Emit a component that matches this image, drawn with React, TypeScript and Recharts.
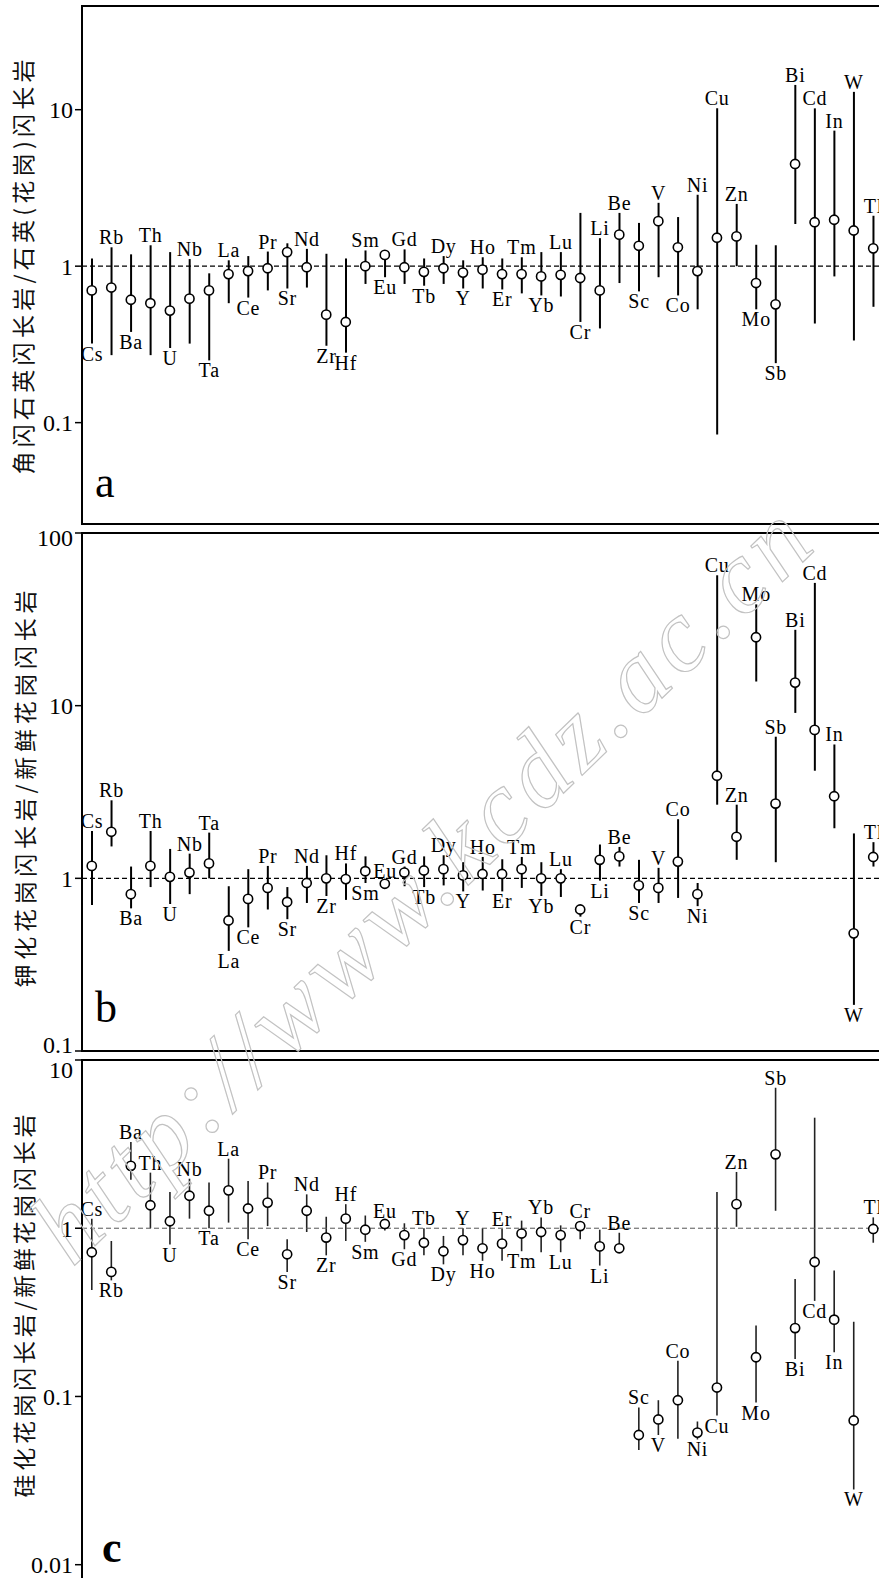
import {
  ComposedChart,
  XAxis,
  YAxis,
  Bar,
  Line,
  LabelList,
  ReferenceLine,
} from 'recharts';

// element order on the x axis (same for all three panels)
const ELEMENTS = [
  'Cs', 'Rb', 'Ba', 'Th', 'U', 'Nb', 'Ta', 'La', 'Ce', 'Pr', 'Sr', 'Nd', 'Zr', 'Hf',
  'Sm', 'Eu', 'Gd', 'Tb', 'Dy', 'Y', 'Ho', 'Er', 'Tm', 'Yb', 'Lu', 'Cr', 'Li', 'Be',
  'Sc', 'V', 'Co', 'Ni', 'Cu', 'Zn', 'Mo', 'Sb', 'Bi', 'Cd', 'In', 'W', 'Tl',
];

// panel a: 角闪石英闪长岩 / 石英(花岗)闪长岩
const A_VALUE = [0.70, 0.73, 0.61, 0.58, 0.52, 0.62, 0.70, 0.89, 0.93, 0.97, 1.23, 0.985, 0.49, 0.44, 1.0, 1.18, 0.985, 0.92, 0.97, 0.91, 0.95, 0.89, 0.89, 0.86, 0.88, 0.84, 0.70, 1.59, 1.35, 1.94, 1.32, 0.93, 1.52, 1.55, 0.78, 0.57, 4.5, 1.91, 1.98, 1.69, 1.30];
const A_MAX = [1.12, 1.32, 1.19, 1.36, 1.23, 1.11, 0.90, 1.09, 1.16, 1.24, 1.40, 1.29, 1.20, 1.12, 1.26, 1.22, 1.28, 1.12, 1.16, 1.09, 1.14, 1.12, 1.14, 1.23, 1.23, 2.19, 1.51, 2.19, 1.89, 2.54, 2.06, 2.86, 10.2, 2.5, 1.37, 1.36, 14.4, 10.2, 7.35, 13.0, 2.1];
const A_MIN = [0.32, 0.27, 0.38, 0.27, 0.30, 0.32, 0.25, 0.58, 0.63, 0.70, 0.72, 0.73, 0.31, 0.28, 0.77, 0.85, 0.77, 0.75, 0.77, 0.72, 0.72, 0.71, 0.67, 0.65, 0.64, 0.44, 0.40, 0.78, 0.69, 0.85, 0.65, 0.53, 0.084, 1.0, 0.53, 0.24, 1.86, 0.43, 0.86, 0.335, 0.55];
const A_SIDE = ['d', 'u', 'd', 'u', 'd', 'u', 'd', 'u', 'd', 'u', 'd', 'u', 'd', 'd', 'u', 'd', 'u', 'd', 'u', 'd', 'u', 'd', 'u', 'd', 'u', 'd', 'u', 'u', 'd', 'u', 'd', 'u', 'u', 'u', 'd', 'd', 'u', 'u', 'u', 'u', 'u'];

// panel b: 钾化花岗闪长岩 / 新鲜花岗闪长岩
const B_VALUE = [1.18, 1.86, 0.81, 1.18, 1.02, 1.08, 1.22, 0.57, 0.76, 0.88, 0.73, 0.94, 1.0, 0.99, 1.10, 0.93, 1.08, 1.11, 1.13, 1.04, 1.06, 1.06, 1.13, 1.0, 1.0, 0.66, 1.28, 1.34, 0.91, 0.88, 1.25, 0.81, 3.93, 1.74, 24.9, 2.71, 13.6, 7.24, 2.99, 0.48, 1.33];
const B_MAX = [1.88, 2.83, 1.17, 1.88, 1.48, 1.39, 1.84, 0.90, 1.13, 1.18, 0.89, 1.18, 1.36, 1.22, 1.34, 0.97, 1.17, 1.34, 1.36, 1.24, 1.33, 1.29, 1.33, 1.24, 1.13, 0.70, 1.57, 1.52, 1.28, 1.15, 2.2, 0.94, 56.9, 2.67, 38.6, 6.61, 27.5, 51.4, 5.96, 1.82, 1.62];
const B_MIN = [0.70, 1.53, 0.67, 0.89, 0.71, 0.81, 1.0, 0.38, 0.52, 0.66, 0.58, 0.72, 0.79, 0.75, 0.94, 0.89, 0.90, 0.89, 0.91, 0.84, 0.85, 0.84, 0.88, 0.79, 0.78, 0.60, 0.97, 1.17, 0.72, 0.72, 0.77, 0.69, 2.67, 1.28, 13.8, 1.24, 9.08, 4.2, 1.95, 0.185, 1.17];
const B_SIDE = ['u', 'u', 'd', 'u', 'd', 'u', 'u', 'd', 'd', 'u', 'd', 'u', 'd', 'u', 'd', 'u', 'u', 'd', 'u', 'd', 'u', 'd', 'u', 'd', 'u', 'd', 'd', 'u', 'd', 'u', 'u', 'd', 'u', 'u', 'u', 'u', 'u', 'u', 'u', 'd', 'u'];

// panel c: 硅化花岗闪长岩 / 新鲜花岗闪长岩
const C_VALUE = [0.72, 0.55, 2.35, 1.37, 1.10, 1.56, 1.27, 1.68, 1.31, 1.42, 0.70, 1.27, 0.88, 1.14, 0.98, 1.06, 0.91, 0.82, 0.73, 0.85, 0.76, 0.81, 0.93, 0.95, 0.91, 1.03, 0.78, 0.76, 0.059, 0.073, 0.095, 0.061, 0.113, 1.39, 0.171, 2.75, 0.255, 0.63, 0.286, 0.072, 0.99];
const C_MAX = [1.14, 0.84, 3.26, 2.14, 1.64, 1.97, 1.87, 2.59, 1.91, 1.87, 0.86, 1.59, 1.17, 1.39, 1.19, 1.10, 1.07, 1.0, 0.90, 1.0, 1.0, 0.99, 1.11, 1.16, 1.04, 1.10, 0.98, 0.94, 0.086, 0.095, 0.163, 0.071, 1.64, 2.16, 0.264, 6.84, 0.50, 4.54, 0.56, 0.278, 1.16];
const C_MIN = [0.43, 0.49, 1.94, 1.0, 0.80, 1.14, 1.0, 1.08, 0.86, 1.03, 0.55, 0.95, 0.69, 0.84, 0.83, 0.97, 0.75, 0.69, 0.61, 0.69, 0.64, 0.64, 0.73, 0.72, 0.72, 0.86, 0.60, 0.735, 0.048, 0.059, 0.056, 0.0555, 0.077, 1.02, 0.092, 1.27, 0.167, 0.37, 0.183, 0.028, 0.82];
const C_SIDE = ['u', 'd', 'u', 'u', 'd', 'u', 'd', 'u', 'd', 'u', 'd', 'u', 'd', 'u', 'd', 'u', 'd', 'u', 'd', 'u', 'd', 'u', 'd', 'u', 'd', 'u', 'd', 'u', 'u', 'd', 'u', 'd', 'd', 'u', 'd', 'u', 'd', 'd', 'd', 'd', 'u'];

const SERIF = '"Liberation Serif", "DejaVu Serif", serif';
const CJK = '"Noto Sans CJK SC", sans-serif';

const rows = (vals: number[], mins: number[], maxs: number[]) =>
  ELEMENTS.map((el, i) => ({ el, v: vals[i], range: [mins[i], maxs[i]] }));

// element name above the top end or below the bottom end of the range line
const elementLabel = (sides: string[]) => (props: any) => {
  const { x, y, width, height, value } = props;
  const i = ELEMENTS.indexOf(value);
  const cx = Number(x) + Number(width) / 2;
  const up = sides[i] === 'u';
  return (
    <text
      x={cx}
      y={up ? Number(y) - 3 : Number(y) + Number(height) + 17}
      textAnchor="middle"
      fontFamily={SERIF}
      fontSize={20}
      letterSpacing={0.8}
      fill="#000"
    >
      {value}
    </text>
  );
};

// y tick labels; labels at the panel edges are nudged inward like the original
const yTick = (shift: Record<string, number>) => (props: any) => {
  const { x, y, payload } = props;
  const label = String(payload.value);
  return (
    <text x={x} y={y + (shift[label] || 0)} dy="0.36em" textAnchor="end" fontFamily={SERIF} fontSize={24} fill="#000">
      {label}
    </text>
  );
};

type PanelProps = {
  data: any[];
  sides: string[];
  domain: [number, number];
  ticks: number[];
  shift: Record<string, number>;
  top: number;
  height: number;
  bottom: number;
  faint?: boolean;
};

const Panel = ({ data, sides, domain, ticks, shift, top, height, bottom, faint }: PanelProps) => (
  <div style={{ position: 'absolute', left: 0, top }}>
    <ComposedChart width={900} height={height} data={data} margin={{ top: 6, right: 17, bottom, left: 0 }}>
      <XAxis dataKey="el" type="category" hide />
      <YAxis
        scale="log"
        type="number"
        domain={domain}
        allowDataOverflow
        ticks={ticks}
        interval={0}
        width={82}
        tickSize={7}
        tickMargin={2}
        tickLine={{ stroke: '#000', strokeWidth: 1.5 }}
        axisLine={{ stroke: '#000', strokeWidth: 2 }}
        tick={yTick(shift)}
      />
      <ReferenceLine
        y={1}
        stroke={faint ? '#555' : '#000'}
        strokeWidth={faint ? 1 : 1.4}
        strokeDasharray="5 3"
      />
      <Bar dataKey="range" barSize={faint ? 1.6 : 2} fill={faint ? '#222' : '#000'} isAnimationActive={false}>
        <LabelList dataKey="el" content={elementLabel(sides)} />
      </Bar>
      <Line
        dataKey="v"
        stroke="none"
        dot={{ r: 4.6, fill: '#fff', stroke: '#000', strokeWidth: 1.6 }}
        activeDot={false}
        isAnimationActive={false}
      />
    </ComposedChart>
  </div>
);

const titles = [
  { text: '角闪石英闪长岩/石英(花岗)闪长岩', x: 22, y: 267, len: 415 },
  { text: '钾化花岗闪长岩/新鲜花岗闪长岩', x: 24, y: 789, len: 397 },
  { text: '硅化花岗闪长岩/新鲜花岗闪长岩', x: 23, y: 1306, len: 383 },
];

// panel frames (plot areas of the three charts)
const frames = [
  { y: 6, h: 518 },
  { y: 533, h: 518 },
  { y: 1060, h: 530 },
];

export default function App() {
  return (
    <div style={{ position: 'absolute', left: 0, top: 0, width: 879, height: 1578, overflow: 'hidden', background: '#fff' }}>
      <Panel data={rows(A_VALUE, A_MIN, A_MAX)} sides={A_SIDE} domain={[0.0225, 46]} ticks={[0.1, 1, 10]} shift={{}} top={0} height={531} bottom={7} />
      <Panel data={rows(B_VALUE, B_MIN, B_MAX)} sides={B_SIDE} domain={[0.1, 100]} ticks={[0.1, 1, 10, 100]} shift={{ '100': 4, '0.1': -7 }} top={527} height={531} bottom={7} />
      <Panel data={rows(C_VALUE, C_MIN, C_MAX)} sides={C_SIDE} domain={[0.008, 10]} ticks={[0.01, 0.1, 1, 10]} shift={{ '10': 9 }} top={1054} height={537} bottom={10} faint />
      <svg width={879} height={1578} style={{ position: 'absolute', left: 0, top: 0, pointerEvents: 'none' }}>
        {frames.map((f) => (
          <rect key={f.y} x={82} y={f.y} width={801} height={f.h} fill="none" stroke="#000" strokeWidth={2} />
        ))}
        {titles.map((t) => (
          <text
            key={t.text}
            transform={`translate(${t.x},${t.y}) rotate(-90)`}
            textAnchor="middle"
            dominantBaseline="central"
            fontFamily={CJK}
            fontSize={23}
            textLength={t.len}
            lengthAdjust="spacing"
            fill="#111"
          >
            {t.text}
          </text>
        ))}
        <text x={95} y={497} fontFamily={SERIF} fontSize={44} fill="#000">a</text>
        <text x={95} y={1022} fontFamily={SERIF} fontSize={44} fill="#000">b</text>
        <text x={102} y={1562} fontFamily={SERIF} fontSize={44} fontWeight="bold" fill="#000">c</text>
        <text
          transform="translate(72,1268) rotate(-44)"
          fontFamily={SERIF}
          fontStyle="italic"
          fontSize={104}
          textLength={1036}
          lengthAdjust="spacing"
          fill="none"
          stroke="#c2c2c2"
          strokeWidth={1.2}
        >
          http://www.kcdz.ac.cn
        </text>
      </svg>
    </div>
  );
}
